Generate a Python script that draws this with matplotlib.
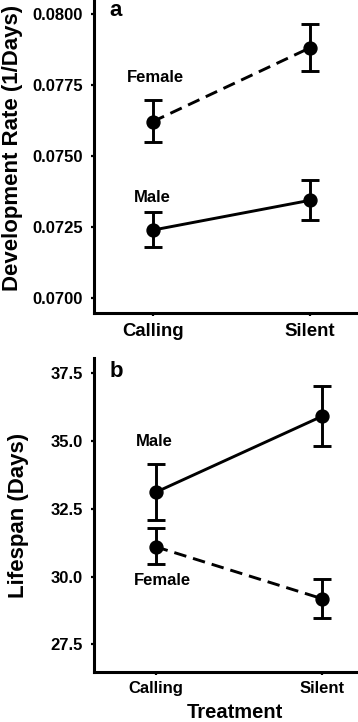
import matplotlib
matplotlib.use("Agg")
import matplotlib.pyplot as plt

plt.rcParams['font.family'] = ['Liberation Sans', 'DejaVu Sans']
plt.rcParams['font.weight'] = 'bold'

treatments = ["Calling", "Silent"]

# Panel a: development rate (1/Days)
dev_female = [0.07621, 0.07881]
dev_female_lo = [0.07548, 0.07800]
dev_female_hi = [0.07697, 0.07964]
dev_male = [0.07239, 0.07344]
dev_male_lo = [0.07178, 0.07273]
dev_male_hi = [0.07303, 0.07414]
dev_ticks = [0.0700, 0.0725, 0.0750, 0.0775, 0.0800]

# Panel b: lifespan (Days)
life_male = [33.11, 35.92]
life_male_lo = [32.09, 34.82]
life_male_hi = [34.14, 37.04]
life_female = [31.10, 29.18]
life_female_lo = [30.45, 28.48]
life_female_hi = [31.80, 29.91]
life_ticks = [27.5, 30.0, 32.5, 35.0, 37.5]

W, H = 358, 722
fig = plt.figure(figsize=(W / 100, H / 100), dpi=100)

def px_axes(left, top, right, bottom):
    return fig.add_axes([left / W, (H - bottom) / H, (right - left) / W, (bottom - top) / H])

ax1 = px_axes(94, 0, 358, 313)
ax2 = px_axes(94, 358, 358, 672.3)

x = [1, 2]
LW = 2.1

def draw_series(ax, y, lo, hi, dashed):
    err = [[v - l for v, l in zip(y, lo)], [h - v for v, h in zip(y, hi)]]
    ls = (0, (4.3, 2.4)) if dashed else '-'
    ax.plot(x, y, color='black', lw=LW, linestyle=ls, zorder=2)
    ax.errorbar(x, y, yerr=err, fmt='none', ecolor='black', elinewidth=LW,
                capsize=6.2, capthick=LW, zorder=3)
    ax.plot(x, y, 'o', color='black', markersize=9.3, zorder=4)

draw_series(ax1, dev_female, dev_female_lo, dev_female_hi, True)
draw_series(ax1, dev_male, dev_male_lo, dev_male_hi, False)
draw_series(ax2, life_male, life_male_lo, life_male_hi, False)
draw_series(ax2, life_female, life_female_lo, life_female_hi, True)

ax1.set_xlim(0.627, 2.305)
ax1.set_ylim(0.069472, 0.080493)
ax1.set_yticks(dev_ticks)
ax1.set_yticklabels([f"{t:.4f}" for t in dev_ticks])
ax2.set_xlim(0.63, 2.214)
ax2.set_ylim(26.467, 38.065)
ax2.set_yticks(life_ticks)
ax2.set_yticklabels([f"{t:.1f}" for t in life_ticks])

for ax, xfs, xpad in ((ax1, 13.4, 5.0), (ax2, 12, 3.5)):
    ax.set_xticks(x)
    ax.set_xticklabels(treatments, fontsize=xfs, fontweight='bold')
    for s in ('top', 'right'):
        ax.spines[s].set_visible(False)
    for s in ('left', 'bottom'):
        ax.spines[s].set_linewidth(2.2)
    ax.tick_params(axis='both', length=2.5, width=1.6, color='black')
    ax.tick_params(axis='y', labelsize=12, pad=5.5)
    ax.tick_params(axis='x', pad=xpad)
    for lab in ax.get_yticklabels():
        lab.set_fontweight('bold')
    ax.patch.set_alpha(0)

ax1.text(1.02, 0.07775, "Female", ha='center', va='center', fontsize=12, fontweight='bold')
ax1.text(1.0, 0.07353, "Male", ha='center', va='center', fontsize=12, fontweight='bold')
ax2.text(0.99, 34.98, "Male", ha='center', va='center', fontsize=12, fontweight='bold')
ax2.text(1.04, 29.87, "Female", ha='center', va='center', fontsize=12, fontweight='bold')

ax1.text(0.08, 0.968, "a", transform=ax1.transAxes, ha='center', va='center',
         fontsize=16, fontweight='bold')
ax2.text(0.083, 0.957, "b", transform=ax2.transAxes, ha='center', va='center',
         fontsize=16, fontweight='bold')

fig.text(13 / W, (H - 147.5) / H, "Development Rate (1/Days)", rotation=90,
         ha='center', va='center', fontsize=16, fontweight='bold')
fig.text(19 / W, (H - 515) / H, "Lifespan (Days)", rotation=90,
         ha='center', va='center', fontsize=16, fontweight='bold')
fig.text(235 / W, (H - 712.7) / H, "Treatment", ha='center', va='center',
         fontsize=14.5, fontweight='bold')

fig.savefig("out.png", dpi=100, facecolor='white')
